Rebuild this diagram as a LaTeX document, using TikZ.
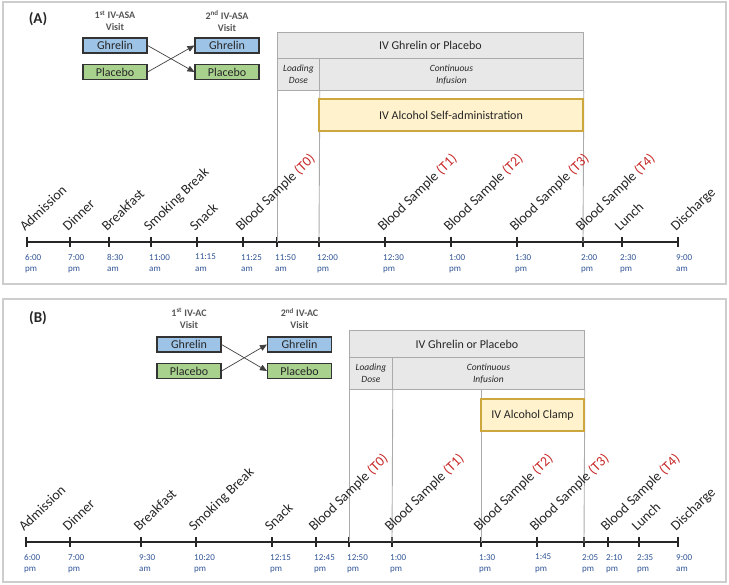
\documentclass[tikz,border=0pt]{standalone}
\usepackage{fontspec}
\setmainfont{Carlito}
\usepackage{xcolor}
\usetikzlibrary{arrows.meta, positioning}

\definecolor{panelline}{RGB}{205,205,205}
\definecolor{tablefill}{RGB}{232,232,232}
\definecolor{tableline}{RGB}{170,170,170}
\definecolor{alcfill}{RGB}{255,242,204}
\definecolor{alcline}{RGB}{206,166,62}
\definecolor{ghrfill}{RGB}{157,195,230}
\definecolor{plcfill}{RGB}{169,209,142}
\definecolor{timeblue}{RGB}{47,84,150}
\definecolor{tred}{RGB}{200,40,40}
\definecolor{labelgray}{RGB}{85,85,85}

\newcommand{\bsample}[1]{Blood Sample \textcolor{tred}{(#1)}}

\begin{document}
\begin{tikzpicture}[
    x=1pt, y=-1pt,
    panel/.style={draw=panelline, line width=1.6pt},
    tag/.style={font=\fontsize{15}{15}\selectfont\bfseries, text=black!85},
    visit/.style={align=center, font=\fontsize{10}{12}\selectfont\bfseries, text=labelgray},
    drug/.style={draw=black!80, line width=1.1pt, minimum width=64pt, minimum height=15pt,
                 inner sep=0pt, font=\fontsize{12}{12}\selectfont, text=black!85},
    cell/.style={draw=tableline, fill=tablefill, line width=0.8pt, inner sep=0pt, align=center,
                 anchor=north west, text=black!85},
    alc/.style={draw=alcline, fill=alcfill, line width=1.1pt, inner sep=0pt,
                font=\fontsize{12}{12}\selectfont, text=black!85},
    vline/.style={draw=tableline, line width=0.9pt},
    swap/.style={-{Triangle[length=7pt, width=6pt]}, draw=black!75, line width=0.7pt},
    axisline/.style={line width=1.2pt, black!85},
    event/.style={anchor=base west, rotate=44, inner sep=0pt,
                  font=\fontsize{14}{14}\selectfont, text=black!85},
    clock/.style={anchor=north west, inner sep=0pt, align=left,
                  font=\fontsize{9}{11.5}\selectfont, text=timeblue}
  ]
  \useasboundingbox (0,0) rectangle (729,585);

  % ---------- panel A ----------
  \draw[panel] (3,2) rectangle (726,284);
  \node[tag] (tagA) at (38,19) {(A)};

  \node[visit] (v1A) at (115,21) {1\textsuperscript{st} IV-ASA\\Visit};
  \node[visit] (v2A) at (227,21) {2\textsuperscript{nd} IV-ASA\\Visit};
  \node[drug, fill=ghrfill] (g1A) at (115,45.5) {Ghrelin};
  \node[drug, fill=plcfill] (p1A) at (115,72) {Placebo};
  \node[drug, fill=ghrfill] (g2A) at (227,45.5) {Ghrelin};
  \node[drug, fill=plcfill] (p2A) at (227,72) {Placebo};
  \draw[swap] (g1A.east) -- (p2A.west);
  \draw[swap] (p1A.east) -- (g2A.west);

  \node[cell, minimum width=306pt, minimum height=26pt, font=\fontsize{12}{12}\selectfont]
    (hdrA) at (277,32) {IV Ghrelin or Placebo};
  \node[cell, minimum width=42pt, minimum height=32pt, font=\fontsize{9.5}{12}\selectfont\itshape]
    (doseA) at (277,58) {Loading\\Dose};
  \node[cell, minimum width=264pt, minimum height=32pt, font=\fontsize{9.5}{12}\selectfont\itshape]
    (infA) at (319,58) {Continuous\\Infusion};

  \foreach \x/\t/\d [count=\i] in {27/6:00/pm, 70/7:00/pm, 109/8:30/am, 151/11:00/am,
      197/11:15/am, 243/11:25/am, 277/11:50/am, 319/12:00/pm, 385/12:30/pm,
      451/1:00/pm, 517/1:30/pm, 583/2:00/pm, 622/2:30/pm, 678/9:00/am} {
    \coordinate (ta\i) at (\x,242);
    \draw[axisline] (\x,237) -- (\x,247);
    \node[clock] (cka\i) at (\x-2,254) {\t\\\d};
  }
  \draw[axisline] (ta1) -- (ta14);

  \draw[vline] (doseA.south west) -- (ta7);
  \draw[vline] (doseA.south east) -- (ta8);
  \draw[vline] (infA.south east) -- (ta12);
  \node[alc, minimum width=264pt, minimum height=32pt] (alcA) at (451,115)
    {IV Alcohol Self-administration};

  \foreach \x/\e [count=\i] in {27/Admission, 70/Dinner, 109/Breakfast, 151/Smoking Break,
      197/Snack, 243/{\bsample{T0}}, 385/{\bsample{T1}}, 451/{\bsample{T2}},
      517/{\bsample{T3}}, 583/{\bsample{T4}}, 622/Lunch, 678/Discharge} {
    \node[event] (eva\i) at (\x-2,232) {\e};
  }

  % ---------- panel B ----------
  \draw[panel] (3,299) rectangle (726,582);
  \node[tag] (tagB) at (38,318) {(B)};

  \node[visit] (v1B) at (189,318.5) {1\textsuperscript{st} IV-AC\\Visit};
  \node[visit] (v2B) at (299.5,318.5) {2\textsuperscript{nd} IV-AC\\Visit};
  \node[drug, fill=ghrfill] (g1B) at (189,344.5) {Ghrelin};
  \node[drug, fill=plcfill] (p1B) at (189,371) {Placebo};
  \node[drug, fill=ghrfill] (g2B) at (299.5,344.5) {Ghrelin};
  \node[drug, fill=plcfill] (p2B) at (299.5,371) {Placebo};
  \draw[swap] (g1B.east) -- (p2B.west);
  \draw[swap] (p1B.east) -- (g2B.west);

  \node[cell, minimum width=235pt, minimum height=27pt, font=\fontsize{12}{12}\selectfont]
    (hdrB) at (349,330) {IV Ghrelin or Placebo};
  \node[cell, minimum width=43pt, minimum height=32pt, font=\fontsize{9.5}{12}\selectfont\itshape]
    (doseB) at (349,357) {Loading\\Dose};
  \node[cell, minimum width=192pt, minimum height=32pt, font=\fontsize{9.5}{12}\selectfont\itshape]
    (infB) at (392,357) {Continuous\\Infusion};

  \foreach \x/\t/\d [count=\i] in {26/6:00/pm, 70/7:00/pm, 141/9:30/am, 196/10:20/pm,
      272/12:15/pm, 316/12:45/pm, 349/12:50/pm, 392/1:00/pm, 481/1:30/pm,
      537/1:45/pm, 584/2:05/pm, 608/2:10/pm, 639/2:35/pm, 678/9:00/am} {
    \coordinate (tb\i) at (\x,542);
    \draw[axisline] (\x,537) -- (\x,547);
    \node[clock] (ckb\i) at (\x-2,554) {\t\\\d};
  }
  \draw[axisline] (tb1) -- (tb14);

  \draw[vline] (doseB.south west) -- (tb7);
  \draw[vline] (doseB.south east) -- (tb8);
  \draw[vline] (tb9 |- infB.south) -- (tb9);
  \draw[vline] (infB.south east) -- (tb11);
  \node[alc, minimum width=103pt, minimum height=32pt] (alcB) at (532.5,415)
    {IV Alcohol Clamp};

  \foreach \x/\e [count=\i] in {26/Admission, 70/Dinner, 141/Breakfast, 196/Smoking Break,
      272/Snack, 316/{\bsample{T0}}, 392/{\bsample{T1}}, 481/{\bsample{T2}},
      537/{\bsample{T3}}, 608/{\bsample{T4}}, 639/Lunch, 678/Discharge} {
    \node[event] (evb\i) at (\x-2,532) {\e};
  }
\end{tikzpicture}
\end{document}
